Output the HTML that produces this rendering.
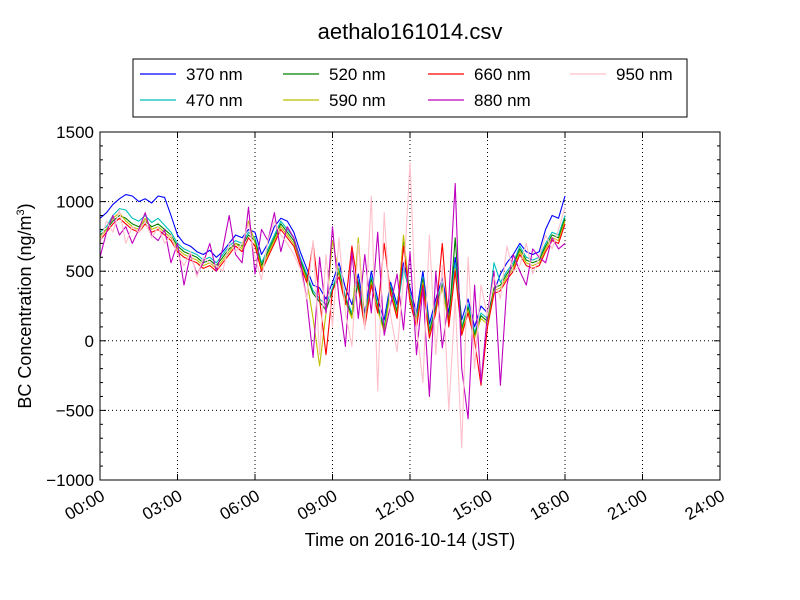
<!DOCTYPE html>
<html><head><meta charset="utf-8"><style>
html,body{margin:0;padding:0;background:#fff;}
svg{display:block;font-family:"Liberation Sans","DejaVu Sans",sans-serif;}
</style></head><body>
<svg id="chart" width="800" height="600" viewBox="0 0 800 600" xmlns="http://www.w3.org/2000/svg">
<rect width="800" height="600" fill="#fff"/>
<text x="410" y="39" text-anchor="middle" font-size="22">aethalo161014.csv</text>
<g id="grid"></g>
<g id="series"></g>
<rect x="100" y="132" width="620" height="348" fill="none" stroke="#000" stroke-width="1"/>
<g id="axes"></g>
<text x="410" y="546" text-anchor="middle" font-size="18">Time on 2016-10-14 (JST)</text>
<text transform="translate(31,306) rotate(-90)" text-anchor="middle" font-size="18">BC Concentration (ng/m<tspan font-size="11" dy="-7">3</tspan><tspan dy="7">)</tspan></text>
<g id="legend">
<rect x="133" y="59" width="554" height="58" fill="#fff" stroke="#000"/>
</g>
</svg>
<script>
const labels = ["370 nm","470 nm","520 nm","590 nm","660 nm","880 nm","950 nm"];
const colors = ["#0000ff","#00bfbf","#008000","#bfbf00","#ff0000","#bf00bf","#ffc0cb"];
const xTicks = ["00:00","03:00","06:00","09:00","12:00","15:00","18:00","21:00","24:00"];
const yTicks = [1500,1000,500,0,-500,-1000];
const stepHours = 0.25;
const s370 = [880,920,980,1020,1050,1040,1000,1020,990,1040,1030,900,760,700,680,640,620,650,600,640,700,760,740,800,780,620,700,820,880,860,780,640,520,400,380,300,420,560,380,260,480,200,500,300,150,420,260,560,380,200,500,120,300,450,200,600,150,300,100,250,200,350,480,560,620,700,640,620,640,800,900,880,1040];
const s470 = [780,820,900,950,940,880,860,900,850,880,830,780,700,660,640,620,580,600,560,620,680,720,700,780,740,560,660,760,860,800,740,600,480,360,300,260,380,520,320,200,440,160,460,260,100,400,220,520,340,160,460,80,260,420,160,560,100,260,60,200,160,560,420,500,560,680,600,580,600,700,780,760,900];
const s520 = [760,800,860,900,880,840,820,860,820,840,800,760,680,640,620,600,560,580,540,600,660,700,680,760,720,540,640,740,840,780,720,580,460,340,280,220,360,500,300,180,420,140,440,240,80,380,200,740,320,140,440,60,240,400,140,740,80,240,40,180,140,380,400,480,540,660,580,560,580,680,760,740,880];
const s590 = [740,800,880,920,860,820,800,880,800,820,780,740,660,620,600,580,540,560,520,580,640,700,660,860,700,520,620,720,820,760,700,560,440,160,-180,200,720,480,280,160,740,120,420,220,60,360,180,760,300,120,420,40,220,380,120,520,60,220,20,160,120,360,380,460,520,640,560,540,560,660,740,720,860];
const s660 = [720,780,840,880,840,800,780,840,780,800,760,720,640,600,580,560,520,540,500,560,620,680,640,740,680,500,600,700,800,740,680,540,420,700,300,-100,360,460,260,680,380,100,400,200,700,340,160,680,280,100,400,20,200,700,100,500,40,200,0,-320,100,340,360,440,500,620,540,520,540,640,720,700,840];
const s880 = [600,780,900,760,820,700,800,920,760,720,800,560,700,400,620,480,560,700,500,660,900,620,560,960,480,800,720,920,640,820,740,580,300,-120,600,200,820,300,-40,640,160,620,200,780,40,260,480,80,640,-100,380,-400,500,-50,300,1130,-200,-560,400,-300,200,500,-320,400,620,500,400,660,600,560,740,660,700];
const s950 = [700,860,780,940,700,820,780,860,740,820,700,760,620,540,640,460,600,560,540,500,700,640,700,840,600,440,720,860,760,700,620,520,300,720,-100,620,100,740,200,-40,700,80,1040,-360,920,180,-80,440,1280,100,-300,760,-100,540,-500,300,-770,600,-200,400,180,460,300,680,500,540,700,480,600,760,660,800,960];
const allSeries = [s370,s470,s520,s590,s660,s880,s950];

const NS="http://www.w3.org/2000/svg";
const X0=100,X1=720,Y0=132,Y1=480;
function xs(h){return X0+(h/24)*(X1-X0);}
function ys(v){return Y1-(v+1000)/2500*(Y1-Y0);}
function mk(tag,attrs,parent){const e=document.createElementNS(NS,tag);for(const k in attrs)e.setAttribute(k,attrs[k]);parent.appendChild(e);return e;}
const grid=document.getElementById('grid'),axes=document.getElementById('axes'),ser=document.getElementById('series'),leg=document.getElementById('legend');

xTicks.forEach((t,i)=>{
  const x=xs(i*3);
  if(i>0&&i<xTicks.length-1){const g=mk('line',{x1:x,x2:x,y1:Y0,y2:Y1,stroke:'#000','stroke-dasharray':'1,3','stroke-width':1},grid);
  
  }
  mk('line',{x1:x,x2:x,y1:Y1,y2:Y1-6,stroke:'#000'},axes);
  mk('line',{x1:x,x2:x,y1:Y0,y2:Y0+6,stroke:'#000'},axes);
  const tx=mk('text',{x:x+3,y:Y1+20,'text-anchor':'end','font-size':17,transform:`rotate(-30 ${x+3} ${Y1+14})`},axes);
  tx.textContent=t;
  
  
});
yTicks.forEach(v=>{
  const y=ys(v);
  if(v<1500&&v>-1000){const g=mk('line',{x1:X0,x2:X1,y1:y,y2:y,stroke:'#000','stroke-dasharray':'1,3','stroke-width':1},grid);
  
  }
  mk('line',{x1:X0,x2:X0+6,y1:y,y2:y,stroke:'#000'},axes);
  mk('line',{x1:X1,x2:X1-6,y1:y,y2:y,stroke:'#000'},axes);
  const tx=mk('text',{x:X0-6,y:y+6,'text-anchor':'end','font-size':17},axes);
  tx.textContent=v<0?'\u2212'+Math.abs(v):String(v);
  
  
});
for(let v=-900;v<1500;v+=100){if(v%500===0)continue;const y=ys(v);
  mk('line',{x1:X0,x2:X0+3,y1:y,y2:y,stroke:'#000'},axes);
  mk('line',{x1:X1,x2:X1-3,y1:y,y2:y,stroke:'#000'},axes);}

allSeries.forEach((s,i)=>{
  const pts=s.map((v,j)=>xs(j*stepHours).toFixed(1)+','+ys(v).toFixed(1)).join(' ');
  const p=mk('polyline',{points:pts,fill:'none',stroke:colors[i],'stroke-width':1.1,'stroke-linejoin':'round'},ser);
  
  
});

const lx=[140,283,428,570], ly=[74,100];
labels.forEach((l,i)=>{
  const col=Math.floor(i/2), row=i%2;
  const x=lx[col], y=ly[row];
  const g=mk('g',{},leg);
  
  
  mk('line',{x1:x,x2:x+36,y1:y,y2:y,stroke:colors[i],'stroke-width':1.2},g);
  const t=mk('text',{x:x+46,y:y+6,'font-size':17},g);
  t.textContent=l;
});
</script>
</body></html>
